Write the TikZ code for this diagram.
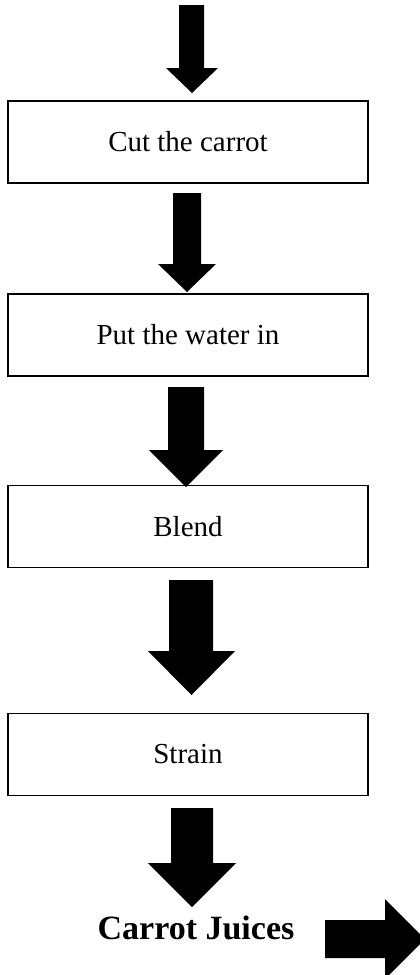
\documentclass[tikz,border=0pt]{standalone}
\usepackage{fontspec}
\setmainfont{Liberation Serif}
\begin{document}
\begin{tikzpicture}[x=1pt,y=-1pt,
  stepbox/.style={draw,line width=1.3pt,rectangle,minimum width=360pt,minimum height=82pt,inner sep=0pt,font=\fontsize{29}{34}\selectfont},
  endlabel/.style={inner sep=0pt,font=\fontsize{34}{40}\selectfont\bfseries},
  blk/.style={fill=black,draw=none}]
\useasboundingbox (0,0) rectangle (420,975);
\clip (0,0) rectangle (420,975);
\node[stepbox] (b1) at (188,142) {Cut the carrot};
\node[stepbox] (b2) at (188,335) {Put the water in};
\node[stepbox] (b3) at (188,526.5) {Blend};
\node[stepbox] (b4) at (188,754.5) {Strain};
\node[endlabel] (out) at (196,928) {Carrot Juices};
% block arrows
\fill[blk] (179,5) -- (204,5) -- (204,68) -- (218,68) -- (192,93) -- (166,68) -- (179,68) -- cycle;
\fill[blk] (173,193) -- (201,193) -- (201,264) -- (216,264) -- (187,292) -- (158,264) -- (173,264) -- cycle;
\fill[blk] (168,387) -- (204,387) -- (204,450) -- (223,450) -- (186,487) -- (149,450) -- (168,450) -- cycle;
\fill[blk] (169,580) -- (213,580) -- (213,651) -- (235,651) -- (191.5,695) -- (148,651) -- (169,651) -- cycle;
\fill[blk] (171,808) -- (213,808) -- (213,863) -- (236,863) -- (192,907) -- (148,863) -- (171,863) -- cycle;
\fill[blk] (325,920) -- (385,920) -- (385,899) -- (425,939) -- (385,979) -- (385,958) -- (325,958) -- cycle;
\end{tikzpicture}
\end{document}
